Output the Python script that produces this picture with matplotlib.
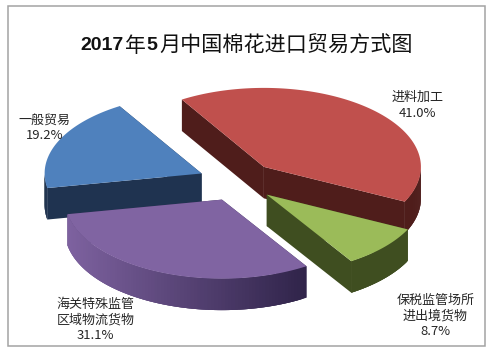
"""2017年5月中国棉花进口贸易方式图 - exploded pseudo-3D pie."""

import matplotlib
matplotlib.use("Agg")
import matplotlib.pyplot as plt
import numpy as np
from matplotlib.colors import to_rgb
from matplotlib.patches import Rectangle

CATEGORIES = ["进料加工", "保税监管场所\n进出境货物", "海关特殊监管\n区域物流货物", "一般贸易"]
VALUES = [41.0, 8.7, 31.1, 19.2]

# style per slice, same order as CATEGORIES
C_TOP = ["#C0504D", "#9BBB59", "#8064A2", "#4F81BD"]
C_WALL = ["#4F1D1B", "#3F4E20", "#3A2C55", "#1F3350"]
C_RIM_L = ["#4F1D1B", "#3F4E20", "#7E62A0", "#1F3350"]
C_RIM_R = ["#4F1D1B", "#3F4E20", "#30244A", "#1F3350"]
LABEL_POS = [(417.5, 105.5), (435.5, 316), (95.5, 320), (44.5, 127.5)]
DRAW_ORDER = [0, 3, 1, 2]

# pie geometry, in picture pixels
CX, CY = 237.5, 181.5
RX, RY = 157, 79
DEPTH = 31.5
EXPLODE = 0.25
START = -121.5

plt.rcParams["font.family"] = ["Noto Sans CJK SC", "DejaVu Sans"]

fig = plt.figure(figsize=(4.93, 3.51), dpi=100, facecolor="white")
ax = fig.add_axes([0, 0, 1, 1])
ax.set_xlim(0, 493)
ax.set_ylim(351, 0)
ax.axis("off")

ax.add_patch(Rectangle((7.5, 5.5), 477.5, 340.5, fc="white", ec="#A3A3A3", lw=1.1))


def edge_point(x0, y0, deg):
    t = np.deg2rad(deg)
    return x0 + RX * np.cos(t), y0 + RY * np.sin(t)


def draw_slice(i, t0, t1):
    mid = (t0 + t1) / 2
    x0, y0 = edge_point(CX, CY, mid)
    x0, y0 = CX + (x0 - CX) * EXPLODE, CY + (y0 - CY) * EXPLODE

    # radial walls
    for t in (t0, t1):
        xe, ye = edge_point(x0, y0, t)
        ax.fill([x0, xe, xe, x0], [y0, ye, ye + DEPTH, y0 + DEPTH],
                color=C_WALL[i], lw=0)

    # outer rim, only the front half shows; strips overlap so no seams
    lo, hi = max(t0, 0), min(t1, 180)
    if hi > lo:
        ts = np.linspace(lo, hi, 90)
        xs, ys = edge_point(x0, y0, ts)
        c_l, c_r = np.array(to_rgb(C_RIM_L[i])), np.array(to_rgb(C_RIM_R[i]))
        for k in range(len(ts) - 1):
            k2 = min(k + 3, len(ts) - 1)
            f = (xs[k] - xs.min()) / (xs.max() - xs.min())
            col = c_l + (c_r - c_l) * f
            ax.fill(np.r_[xs[k:k2 + 1], xs[k:k2 + 1][::-1]],
                    np.r_[ys[k:k2 + 1], ys[k:k2 + 1][::-1] + DEPTH],
                    color=col, lw=0)

    # top face
    ts = np.linspace(t0, t1, 120)
    xs, ys = edge_point(x0, y0, ts)
    ax.fill(np.r_[x0, xs], np.r_[y0, ys], color=C_TOP[i], lw=0)


angles = START + np.r_[0, np.cumsum(VALUES)] / sum(VALUES) * 360
for i in DRAW_ORDER:
    draw_slice(i, angles[i], angles[i + 1])

for name, val, (x, y) in zip(CATEGORIES, VALUES, LABEL_POS):
    ax.text(x, y, f"{name}\n{val:.1f}%", ha="center", va="center", fontsize=9.4,
            color="#262626", linespacing=1.25)

# title: latin digits are bold, the CJK run is not
TITLE_Y = 45.5
for txt, x, fam, wgt, size in [("2017", 80, "Liberation Sans", "bold", 14),
                               ("年", 124.5, "Noto Sans CJK SC", "medium", 15),
                               ("5", 146.5, "Liberation Sans", "bold", 14),
                               ("月中国棉花进口贸易方式图", 159.5, "Noto Sans CJK SC", "medium", 15.2)]:
    ax.text(x, TITLE_Y, txt, ha="left", va="center", fontsize=size,
            family=fam, fontweight=wgt, color="#111111")

fig.savefig("out.png", dpi=100, facecolor="white")
